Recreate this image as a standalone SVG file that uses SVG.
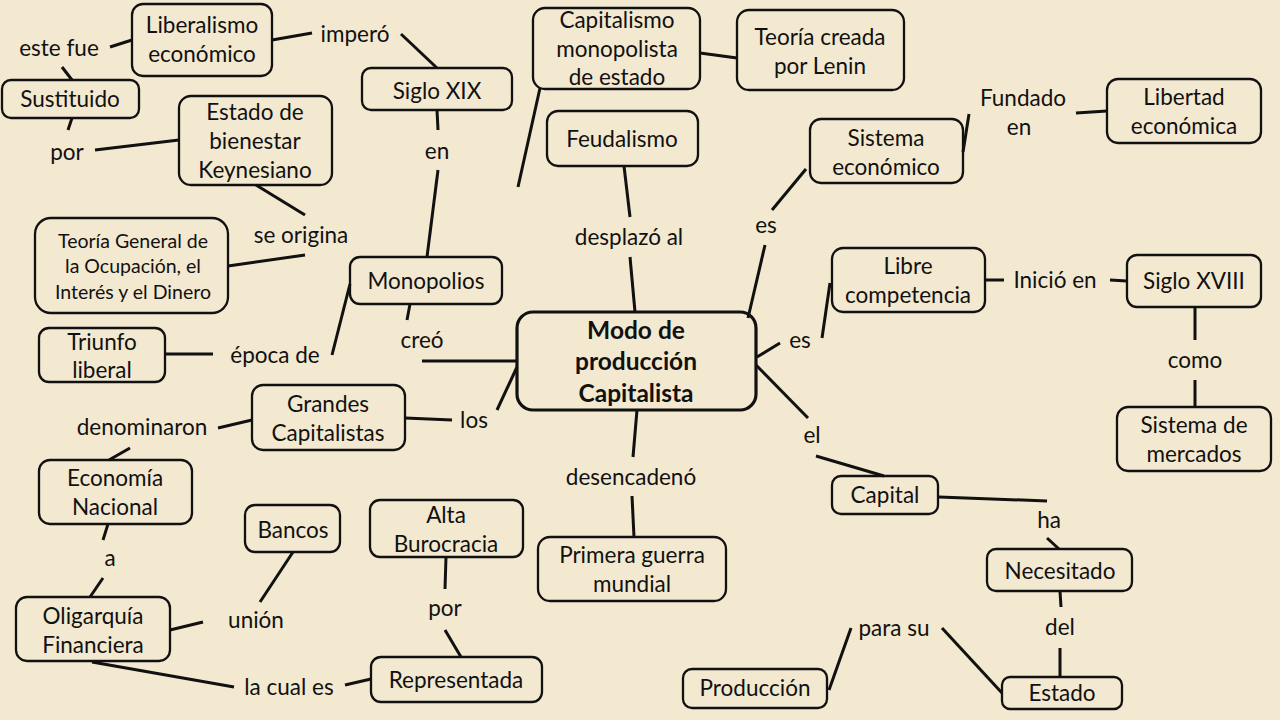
<svg xmlns="http://www.w3.org/2000/svg" width="1280" height="720" viewBox="0 0 1280 720">
<style>
.n rect{fill:none;stroke:#111;stroke-width:2.3;}
.t{font-family:Lato,"Liberation Sans",sans-serif;font-size:22.5px;fill:#111;text-anchor:middle;}
.s{font-size:19.5px;}
.b{font-weight:bold;font-size:24.5px;}
#connectors line{stroke:#111;stroke-width:3;stroke-linecap:butt;}
</style>
<rect x="0" y="0" width="1280" height="720" fill="#F3E8D0"/>
<g id="connectors">
<line x1="110" y1="47" x2="132" y2="40"/>
<line x1="62" y1="67" x2="72" y2="80"/>
<line x1="72" y1="118" x2="68" y2="130"/>
<line x1="95" y1="150" x2="179" y2="140"/>
<line x1="272" y1="40" x2="312" y2="33"/>
<line x1="401" y1="34" x2="437" y2="68"/>
<line x1="437" y1="110" x2="438" y2="130"/>
<line x1="438" y1="170" x2="427" y2="257"/>
<line x1="256" y1="185" x2="305" y2="215"/>
<line x1="305" y1="255" x2="228" y2="266"/>
<line x1="540" y1="88" x2="518" y2="187"/>
<line x1="700" y1="53" x2="737" y2="58"/>
<line x1="624" y1="166" x2="630" y2="217"/>
<line x1="630" y1="257" x2="635" y2="312"/>
<line x1="748" y1="318" x2="765" y2="245"/>
<line x1="772" y1="210" x2="806" y2="169"/>
<line x1="963" y1="152" x2="969" y2="114"/>
<line x1="1076" y1="113" x2="1107" y2="111"/>
<line x1="757" y1="357" x2="780" y2="343"/>
<line x1="822" y1="338" x2="830" y2="283"/>
<line x1="985" y1="280" x2="1004" y2="280"/>
<line x1="1110" y1="280" x2="1127" y2="281"/>
<line x1="1195" y1="307" x2="1195" y2="340"/>
<line x1="1195" y1="380" x2="1195" y2="407"/>
<line x1="350" y1="284" x2="332" y2="355"/>
<line x1="165" y1="354" x2="213" y2="354"/>
<line x1="410" y1="304" x2="407" y2="320"/>
<line x1="422" y1="361" x2="517" y2="361"/>
<line x1="517" y1="367" x2="497" y2="410"/>
<line x1="405" y1="418" x2="452" y2="420"/>
<line x1="218" y1="428" x2="252" y2="420"/>
<line x1="130" y1="448" x2="109" y2="460"/>
<line x1="108" y1="524" x2="103" y2="540"/>
<line x1="103" y1="578" x2="90" y2="597"/>
<line x1="293" y1="552" x2="260" y2="602"/>
<line x1="170" y1="630" x2="203" y2="622"/>
<line x1="92" y1="662" x2="234" y2="687"/>
<line x1="345" y1="685" x2="371" y2="679"/>
<line x1="446" y1="557" x2="445" y2="589"/>
<line x1="445" y1="630" x2="461" y2="657"/>
<line x1="637" y1="410" x2="633" y2="457"/>
<line x1="632" y1="496" x2="634" y2="537"/>
<line x1="756" y1="365" x2="808" y2="418"/>
<line x1="816" y1="456" x2="884" y2="476"/>
<line x1="939" y1="497" x2="1047" y2="501"/>
<line x1="1047" y1="538" x2="1059" y2="549"/>
<line x1="1060" y1="591" x2="1061" y2="607"/>
<line x1="1060" y1="648" x2="1060" y2="677"/>
<line x1="942" y1="628" x2="1002" y2="693"/>
<line x1="829" y1="690" x2="851" y2="628"/>
</g>
<g id="labels">
<text class="t" x="59" y="56">este fue</text>
<text class="t" x="355" y="42">imperó</text>
<text class="t" x="67" y="160">por</text>
<text class="t" x="437" y="159">en</text>
<text class="t" x="301" y="243">se origina</text>
<text class="t" x="629" y="245">desplazó al</text>
<text class="t" x="766" y="233">es</text>
<text class="t" x="1023" y="106">Fundado</text>
<text class="t" x="1019" y="135">en</text>
<text class="t" x="1055" y="288">Inició en</text>
<text class="t" x="275" y="363">época de</text>
<text class="t" x="422" y="348">creó</text>
<text class="t" x="800" y="348">es</text>
<text class="t" x="1195" y="368">como</text>
<text class="t" x="474" y="428">los</text>
<text class="t" x="142" y="435">denominaron</text>
<text class="t" x="812" y="443">el</text>
<text class="t" x="631" y="485">desencadenó</text>
<text class="t" x="1049" y="528">ha</text>
<text class="t" x="110" y="566">a</text>
<text class="t" x="256" y="628">unión</text>
<text class="t" x="445" y="616">por</text>
<text class="t" x="1060" y="635">del</text>
<text class="t" x="894" y="636">para su</text>
<text class="t" x="289" y="695">la cual es</text>
</g>
<g id="liberalismo" class="n"><rect x="132" y="4" width="140" height="72" rx="11"/><text class="t" x="202" y="33">Liberalismo</text><text class="t" x="202" y="62">económico</text></g>
<g id="sustituido" class="n"><rect x="2" y="80" width="137" height="38" rx="9"/><text class="t" x="70" y="107">Sustituido</text></g>
<g id="bienestar" class="n"><rect x="179" y="96" width="153" height="89" rx="12"/><text class="t" x="255" y="120">Estado de</text><text class="t" x="255" y="149">bienestar</text><text class="t" x="255" y="178">Keynesiano</text></g>
<g id="sigloxix" class="n"><rect x="362" y="68" width="150" height="42" rx="9"/><text class="t" x="437" y="99">Siglo XIX</text></g>
<g id="capmonopolista" class="n"><rect x="533" y="8" width="167" height="81" rx="12"/><text class="t" x="617" y="28">Capitalismo</text><text class="t" x="617" y="57">monopolista</text><text class="t" x="617" y="85">de estado</text></g>
<g id="lenin" class="n"><rect x="737" y="10" width="167" height="80" rx="12"/><text class="t" x="820" y="45">Teoría creada</text><text class="t" x="820" y="74">por Lenin</text></g>
<g id="feudalismo" class="n"><rect x="547" y="111" width="151" height="55" rx="11"/><text class="t" x="622" y="147">Feudalismo</text></g>
<g id="sistemaeco" class="n"><rect x="810" y="119" width="153" height="64" rx="11"/><text class="t" x="886" y="146">Sistema</text><text class="t" x="886" y="175">económico</text></g>
<g id="libertad" class="n"><rect x="1107" y="79" width="154" height="64" rx="11"/><text class="t" x="1184" y="105">Libertad</text><text class="t" x="1184" y="134">económica</text></g>
<g id="teoriageneral" class="n"><rect x="35" y="218" width="193" height="95" rx="16"/><text class="t s" x="133" y="248">Teoría General de</text><text class="t s" x="133" y="273">la Ocupación, el</text><text class="t s" x="133" y="299">Interés y el Dinero</text></g>
<g id="monopolios" class="n"><rect x="350" y="257" width="152" height="47" rx="10"/><text class="t" x="426" y="289">Monopolios</text></g>
<g id="modo" class="n"><rect x="517" y="312" width="239" height="98" rx="16" style="stroke-width:3.2"/><text class="t b" x="636" y="339">Modo de</text><text class="t b" x="636" y="370">producción</text><text class="t b" x="636" y="402">Capitalista</text></g>
<g id="librecomp" class="n"><rect x="832" y="248" width="153" height="64" rx="11"/><text class="t" x="908" y="274">Libre</text><text class="t" x="908" y="303">competencia</text></g>
<g id="sigloxviii" class="n"><rect x="1127" y="255" width="134" height="52" rx="10"/><text class="t" x="1194" y="289">Siglo XVIII</text></g>
<g id="triunfo" class="n"><rect x="39" y="328" width="126" height="54" rx="10"/><text class="t" x="102" y="350">Triunfo</text><text class="t" x="102" y="378">liberal</text></g>
<g id="grandes" class="n"><rect x="252" y="385" width="153" height="65" rx="11"/><text class="t" x="328" y="412">Grandes</text><text class="t" x="328" y="441">Capitalistas</text></g>
<g id="mercados" class="n"><rect x="1117" y="407" width="154" height="64" rx="11"/><text class="t" x="1194" y="433">Sistema de</text><text class="t" x="1194" y="462">mercados</text></g>
<g id="economia" class="n"><rect x="39" y="460" width="153" height="64" rx="11"/><text class="t" x="115" y="486">Economía</text><text class="t" x="115" y="515">Nacional</text></g>
<g id="capital" class="n"><rect x="832" y="476" width="106" height="38" rx="9"/><text class="t" x="885" y="503">Capital</text></g>
<g id="bancos" class="n"><rect x="245" y="505" width="95" height="47" rx="10"/><text class="t" x="293" y="538">Bancos</text></g>
<g id="burocracia" class="n"><rect x="370" y="500" width="153" height="57" rx="10"/><text class="t" x="446" y="523">Alta</text><text class="t" x="446" y="552">Burocracia</text></g>
<g id="guerra" class="n"><rect x="538" y="537" width="188" height="64" rx="12"/><text class="t" x="632" y="563">Primera guerra</text><text class="t" x="632" y="592">mundial</text></g>
<g id="necesitado" class="n"><rect x="987" y="549" width="145" height="42" rx="9"/><text class="t" x="1060" y="579">Necesitado</text></g>
<g id="oligarquia" class="n"><rect x="16" y="597" width="154" height="64" rx="11"/><text class="t" x="93" y="624">Oligarquía</text><text class="t" x="93" y="653">Financiera</text></g>
<g id="representada" class="n"><rect x="371" y="657" width="171" height="45" rx="10"/><text class="t" x="456" y="688">Representada</text></g>
<g id="produccion" class="n"><rect x="683" y="669" width="144" height="39" rx="9"/><text class="t" x="755" y="696">Producción</text></g>
<g id="estado" class="n"><rect x="1002" y="677" width="120" height="32" rx="8"/><text class="t" x="1062" y="701">Estado</text></g>
</svg>
